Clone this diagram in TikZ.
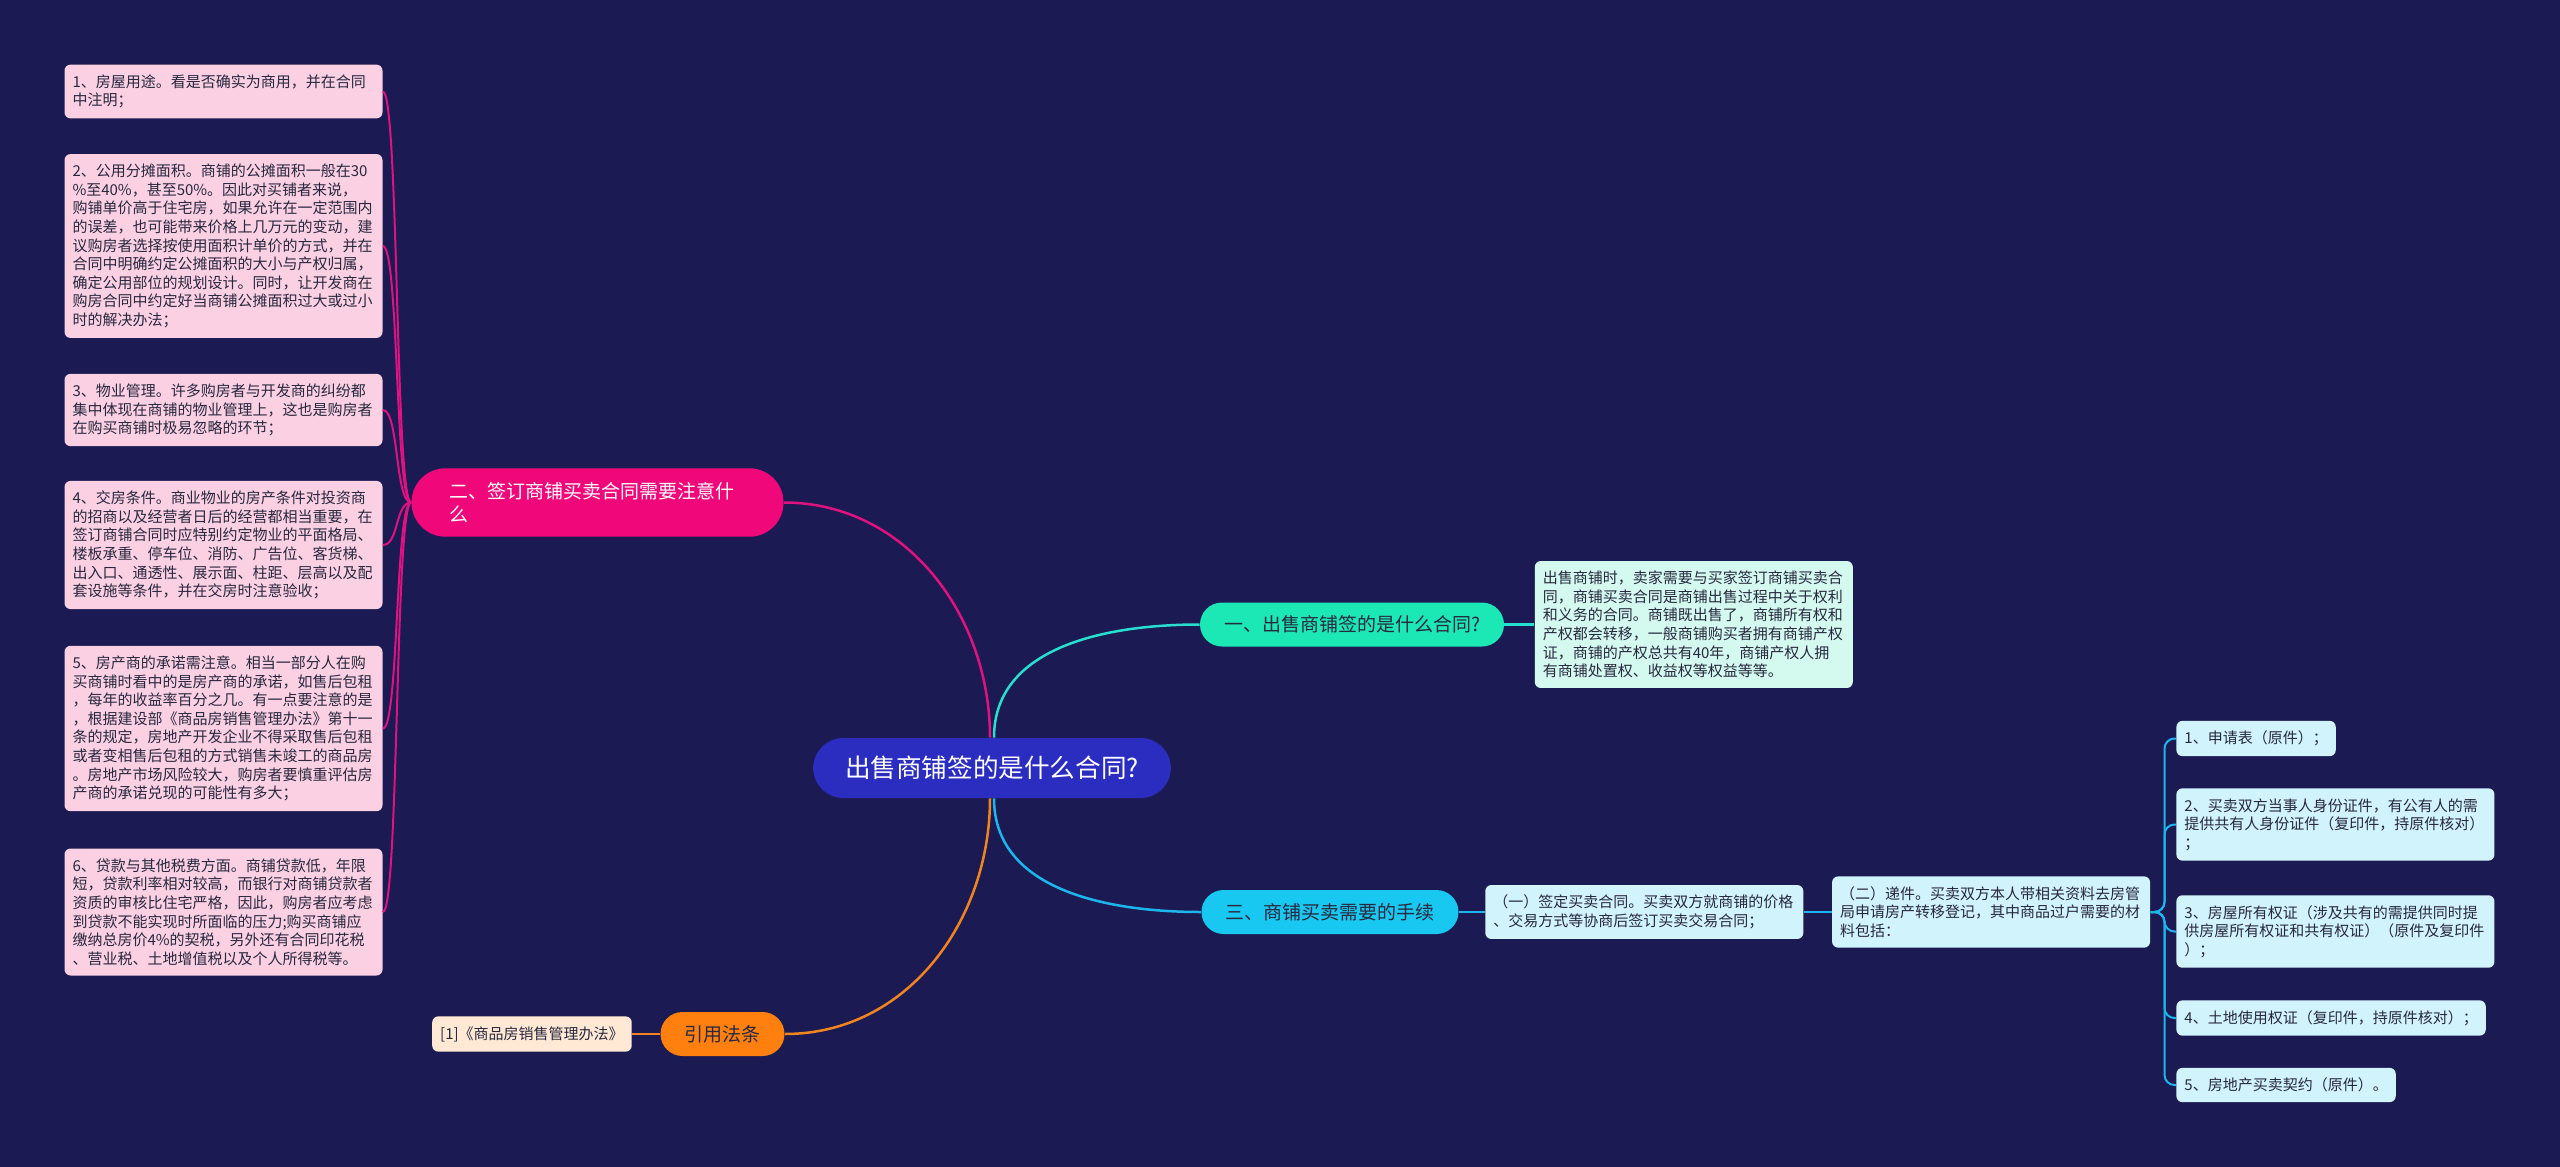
\documentclass[tikz,border=0pt]{standalone}
\usepackage{fontspec}
\setmainfont{Noto Sans CJK SC}
\usetikzlibrary{positioning}

\definecolor{bgnavy}{RGB}{27,26,82}
\definecolor{rootblue}{RGB}{42,45,192}
\definecolor{mintnode}{RGB}{28,232,182}
\definecolor{mintleaf}{RGB}{212,250,240}
\definecolor{rosenode}{RGB}{240,8,122}
\definecolor{roseleaf}{RGB}{250,208,226}
\definecolor{skynode}{RGB}{24,200,240}
\definecolor{skyleaf}{RGB}{208,243,252}
\definecolor{ambernode}{RGB}{255,128,14}
\definecolor{amberleaf}{RGB}{255,233,212}
\definecolor{inkdark}{RGB}{40,40,62}
\definecolor{roseline}{RGB}{222,18,128}
\definecolor{mintline}{RGB}{40,222,208}
\definecolor{skyline}{RGB}{28,182,236}
\definecolor{amberline}{RGB}{240,132,32}

\begin{document}
\begin{tikzpicture}[
      x=0.5pt, y=0.5pt,
      node distance=14pt,
      root/.style={fill=rootblue, text=white, rounded corners=15pt,
      minimum height=30pt, inner xsep=16pt, font=\fontsize{12.8pt}{15pt}\selectfont},
      branch/.style={rounded corners=11pt, minimum height=22pt, inner xsep=12pt,
      text=inkdark, font=\fontsize{9.5pt}{11.5pt}\selectfont},
      leaf/.style={rounded corners=3pt, align=left, inner xsep=4pt, inner ysep=5pt,
      text=inkdark, font=\fontsize{7.5pt}{9.3pt}\selectfont},
      wide/.style={text width=151pt},
      link/.style={line width=1.25pt},
      twig/.style={line width=1pt}
    ]
    \path[fill=bgnavy, use as bounding box] (0,0) rectangle (2560,-1167);

    \node[root] (root) at (992,-768) {出售商铺签的是什么合同?};

    % left side
    \node[branch, fill=rosenode, text=white, text width=148pt, align=left,
      inner xsep=19pt, inner ysep=7pt, rounded corners=17pt] (sign) at (597.5,-502.5)
      {二、签订商铺买卖合同需要注意什\\么};
    \node[leaf, wide, fill=roseleaf] (t1) at (223.5,-91.5)
      {1、房屋用途。看是否确实为商用，并在合同\\中注明；};
    \node[leaf, wide, fill=roseleaf] (t2) at (223.5,-246)
      {2、公用分摊面积。商铺的公摊面积一般在30\\\%至40\%，甚至50\%。因此对买铺者来说，\\购铺单价高于住宅房，如果允许在一定范围内\\的误差，也可能带来价格上几万元的变动，建\\议购房者选择按使用面积计单价的方式，并在\\合同中明确约定公摊面积的大小与产权归属，\\确定公用部位的规划设计。同时，让开发商在\\购房合同中约定好当商铺公摊面积过大或过小\\时的解决办法；};
    \node[leaf, wide, fill=roseleaf] (t3) at (223.5,-410)
      {3、物业管理。许多购房者与开发商的纠纷都\\集中体现在商铺的物业管理上，这也是购房者\\在购买商铺时极易忽略的环节；};
    \node[leaf, wide, fill=roseleaf] (t4) at (223.5,-545)
      {4、交房条件。商业物业的房产条件对投资商\\的招商以及经营者日后的经营都相当重要，在\\签订商铺合同时应特别约定物业的平面格局、\\楼板承重、停车位、消防、广告位、客货梯、\\出入口、通透性、展示面、柱距、层高以及配\\套设施等条件，并在交房时注意验收；};
    \node[leaf, wide, fill=roseleaf] (t5) at (223.5,-728.5)
      {5、房产商的承诺需注意。相当一部分人在购\\买商铺时看中的是房产商的承诺，如售后包租\\，每年的收益率百分之几。有一点要注意的是\\，根据建设部《商品房销售管理办法》第十一\\条的规定，房地产开发企业不得采取售后包租\\或者变相售后包租的方式销售未竣工的商品房\\。房地产市场风险较大，购房者要慎重评估房\\产商的承诺兑现的可能性有多大；};
    \node[leaf, wide, fill=roseleaf] (t6) at (223.5,-912)
      {6、贷款与其他税费方面。商铺贷款低，年限\\短，贷款利率相对较高，而银行对商铺贷款者\\资质的审核比住宅严格，因此，购房者应考虑\\到贷款不能实现时所面临的压力;购买商铺应\\缴纳总房价4\%的契税，另外还有合同印花税\\、营业税、土地增值税以及个人所得税等。};

    \node[branch, fill=ambernode] (cite) at (722.5,-1034) {引用法条};
    \node[leaf, fill=amberleaf, left=of cite] (law) {[1]《商品房销售管理办法》};

    % right side
    \node[branch, fill=mintnode] (what) at (1352,-624.5) {一、出售商铺签的是什么合同?};
    \node[leaf, wide, fill=mintleaf, right=15pt of what] (answer)
      {出售商铺时，卖家需要与买家签订商铺买卖合\\同，商铺买卖合同是商铺出售过程中关于权利\\和义务的合同。商铺既出售了，商铺所有权和\\产权都会转移，一般商铺购买者拥有商铺产权\\证，商铺的产权总共有40年，商铺产权人拥\\有商铺处置权、收益权等权益等等。};

    \node[branch, fill=skynode] (steps) at (1330,-912) {三、商铺买卖需要的手续};
    \node[leaf, wide, fill=skyleaf, right=13pt of steps] (s1)
      {（一）签定买卖合同。买卖双方就商铺的价格\\、交易方式等协商后签订买卖交易合同；};
    \node[leaf, wide, fill=skyleaf, right=of s1] (s2)
      {（二）递件。买卖双方本人带相关资料去房管\\局申请房产转移登记，其中商品过户需要的材\\料包括：};

    \node[leaf, fill=skyleaf, anchor=west] (d1) at (2176,-738.5) {1、申请表（原件）；};
    \node[leaf, wide, fill=skyleaf, anchor=west] (d2) at (2176,-824.5)
      {2、买卖双方当事人身份证件，有公有人的需\\提供共有人身份证件（复印件，持原件核对）\\；};
    \node[leaf, wide, fill=skyleaf, anchor=west] (d3) at (2176,-931.5)
      {3、房屋所有权证（涉及共有的需提供同时提\\供房屋所有权证和共有权证）（原件及复印件\\）；};
    \node[leaf, fill=skyleaf, anchor=west] (d4) at (2176,-1018) {4、土地使用权证（复印件，持原件核对）；};
    \node[leaf, fill=skyleaf, anchor=west] (d5) at (2176,-1085) {5、房地产买卖契约（原件）。};

    % connectors
    \draw[link, roseline] ([xshift=-1pt]root.north) to[out=90, in=0] (sign.east);
    \draw[link, mintline] ([xshift=1pt]root.north) to[out=90, in=180] (what.west);
    \draw[link, skyline] ([xshift=1pt]root.south) to[out=-90, in=180] (steps.west);
    \draw[link, amberline] ([xshift=-1pt]root.south) to[out=-90, in=0] (cite.east);

    \draw[twig, roseline] (sign.west) .. controls +(-16,0) and +(16,0) .. (t1.east);
    \draw[twig, roseline] (sign.west) .. controls +(-16,0) and +(16,0) .. (t2.east);
    \draw[twig, roseline] (sign.west) .. controls +(-16,0) and +(16,0) .. (t3.east);
    \draw[twig, roseline] (sign.west) .. controls +(-16,0) and +(16,0) .. (t4.east);
    \draw[twig, roseline] (sign.west) .. controls +(-16,0) and +(16,0) .. (t5.east);
    \draw[twig, roseline] (sign.west) .. controls +(-16,0) and +(16,0) .. (t6.east);
    \draw[link, amberline] (cite.west) -- (law.east);

    \draw[link, mintline] (what.east) -- (answer.west);
    \draw[link, skyline] (steps.east) -- (s1.west);
    \draw[link, skyline] (s1.east) -- (s2.west);
    \draw[twig, skyline, rounded corners=5pt] (s2.east) -- ++(14,0) |- (d1.west);
    \draw[twig, skyline, rounded corners=5pt] (s2.east) -- ++(14,0) |- (d2.west);
    \draw[twig, skyline, rounded corners=5pt] (s2.east) -- ++(14,0) |- (d3.west);
    \draw[twig, skyline, rounded corners=5pt] (s2.east) -- ++(14,0) |- (d4.west);
    \draw[twig, skyline, rounded corners=5pt] (s2.east) -- ++(14,0) |- (d5.west);
  \end{tikzpicture}
\end{document}
